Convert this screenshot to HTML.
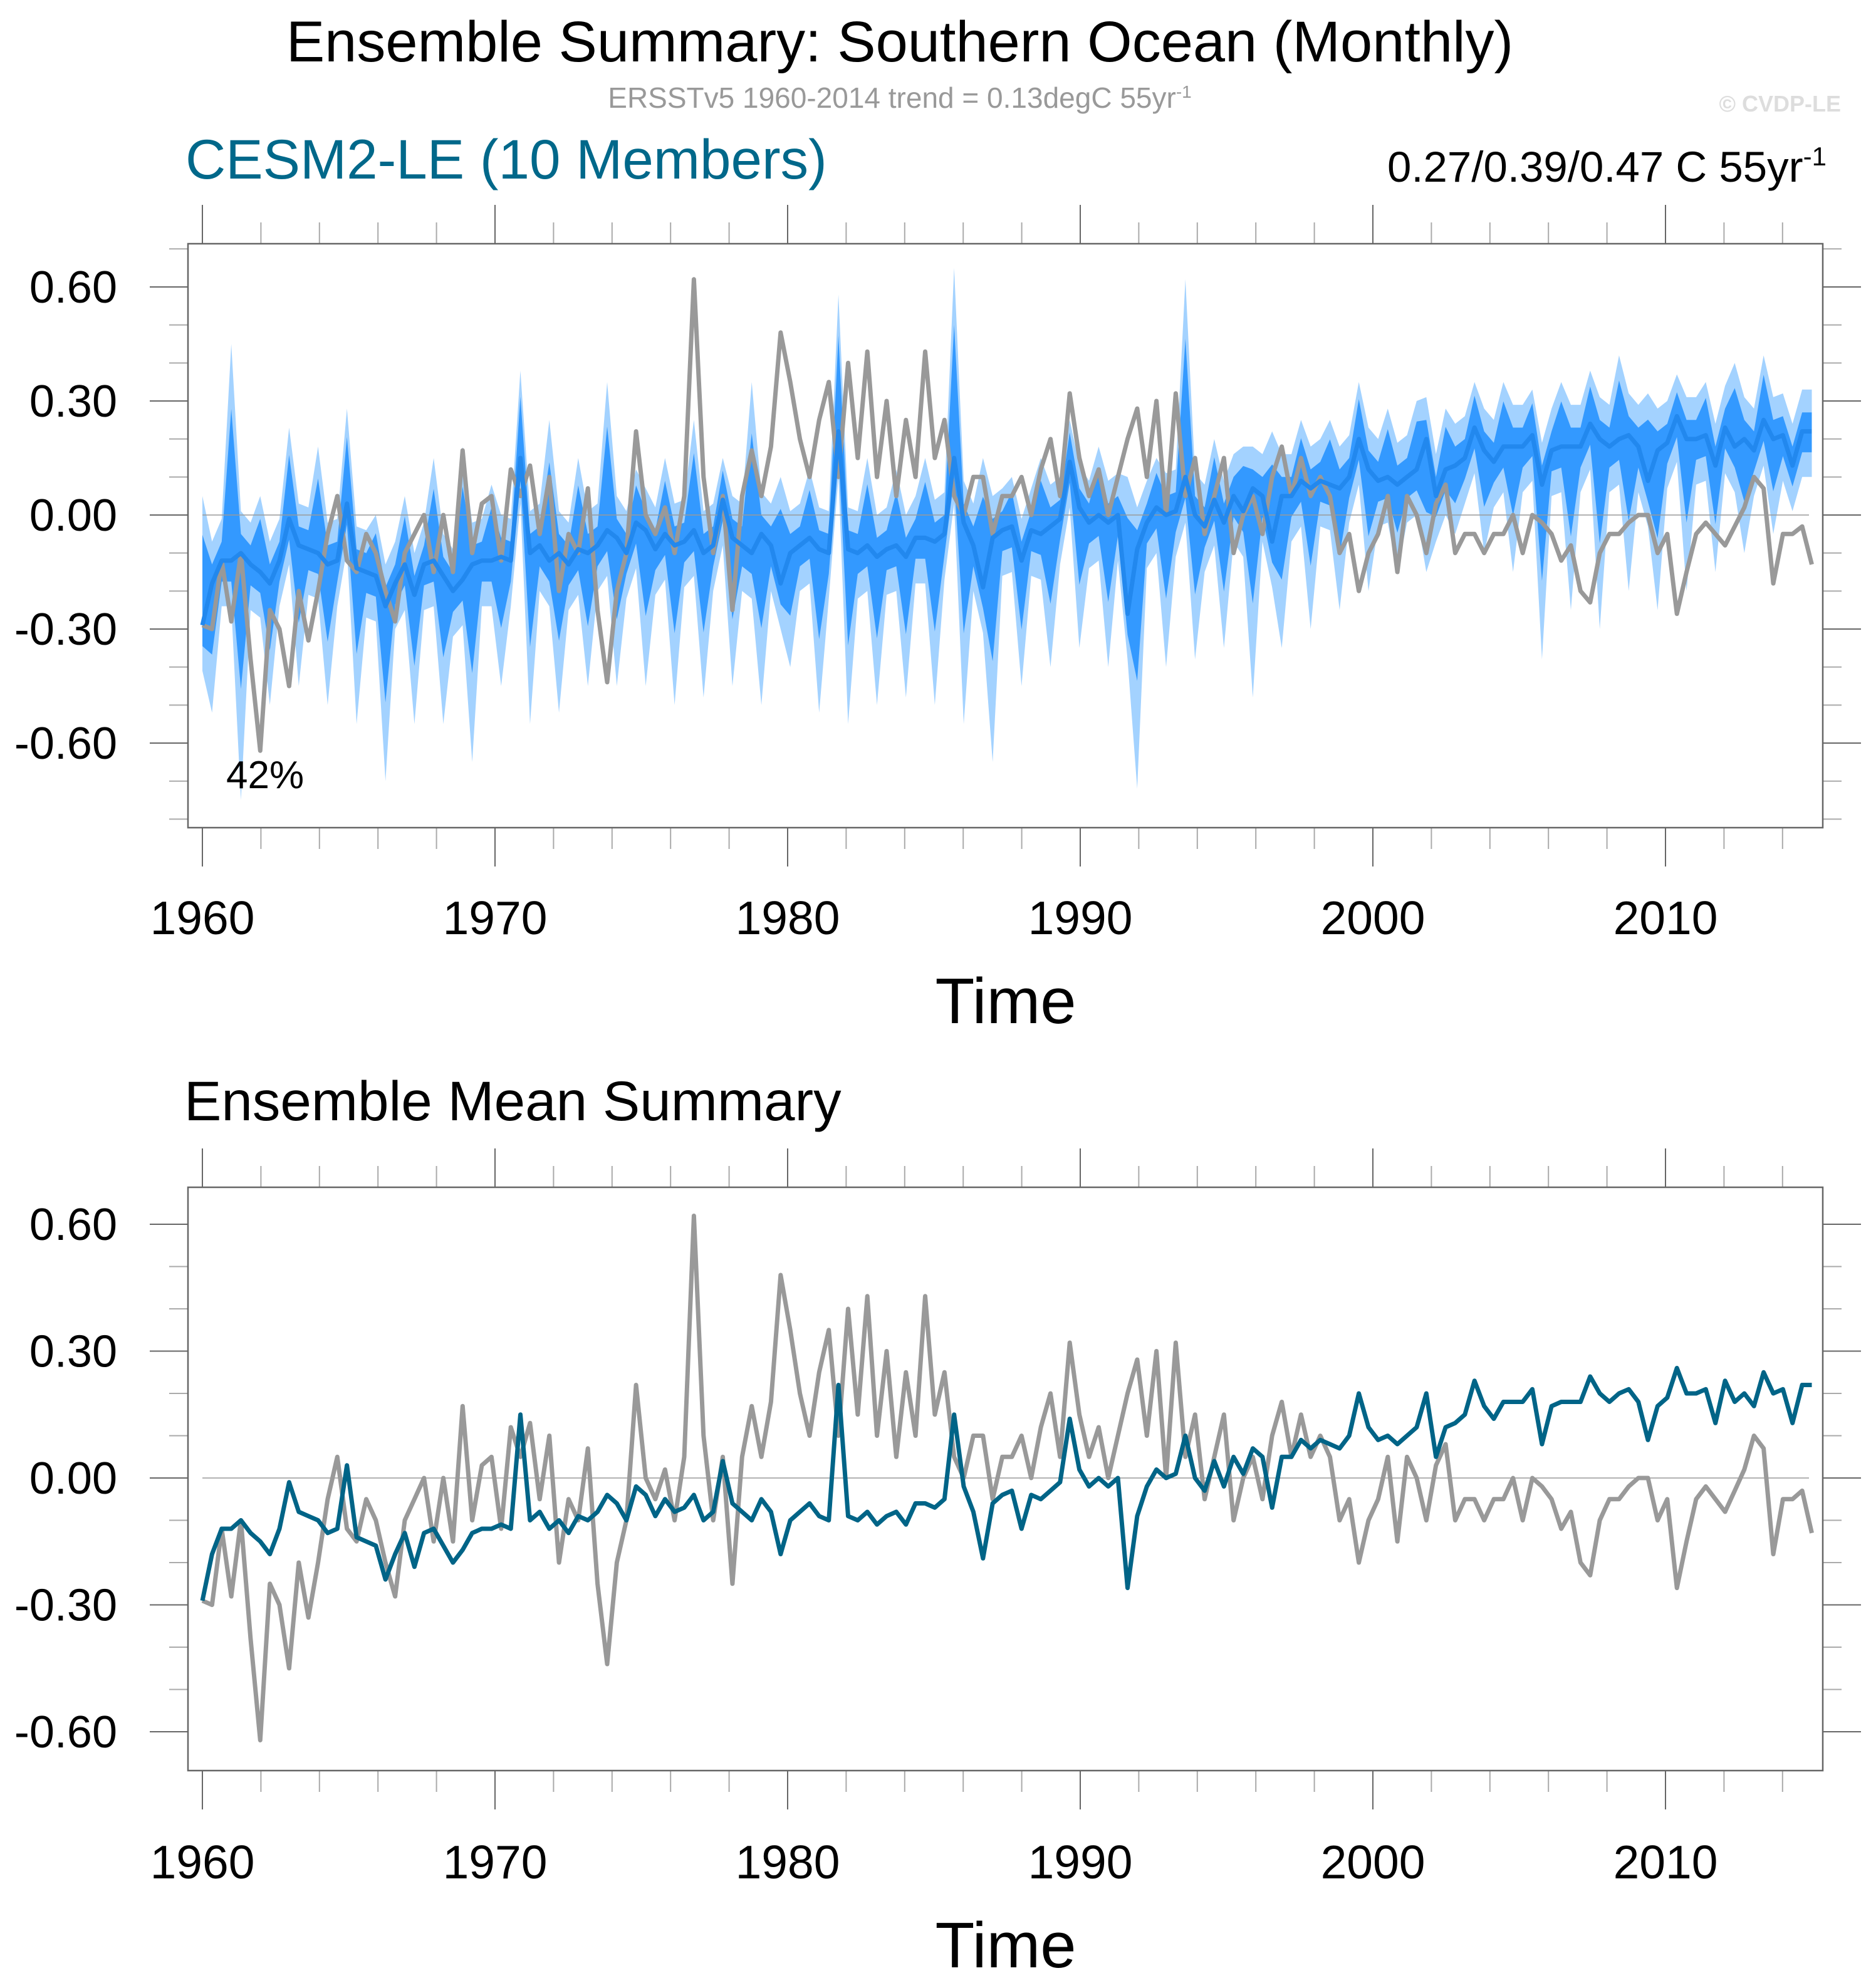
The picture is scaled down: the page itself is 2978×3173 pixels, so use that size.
<!DOCTYPE html>
<html><head><meta charset="utf-8"><style>
html,body{margin:0;padding:0;background:#fff;}
svg{display:block;font-family:"Liberation Sans",sans-serif;}
</style></head><body>
<svg id="fig" width="2978" height="3173" viewBox="0 0 2978 3173" xmlns="http://www.w3.org/2000/svg">
<text x="1436" y="98" font-size="92" text-anchor="middle">Ensemble Summary: Southern Ocean (Monthly)</text>
<text x="1436" y="172" font-size="46" fill="#999" text-anchor="middle">ERSSTv5 1960-2014 trend = 0.13degC 55yr<tspan dy="-16" font-size="28">-1</tspan></text>
<text x="2938" y="178" font-size="36" font-weight="bold" fill="#ddd" text-anchor="end">© CVDP-LE</text>
<text x="296" y="285" font-size="89" fill="#00688a">CESM2-LE (10 Members)</text>
<text x="2915" y="290" font-size="69" text-anchor="end">0.27/0.39/0.47 C 55yr<tspan dy="-26" font-size="42">-1</tspan></text>
<text x="294" y="1788" font-size="89">Ensemble Mean Summary</text>
<g id="top"></g>
<g id="bot"></g>
</svg>
<script>
const categoriesStartYear = 1960;
const categoriesEndYear = 2015;
const yTickValues = [-0.6, -0.3, 0, 0.3, 0.6];
const yTickLabels = ["-0.60", "-0.30", "0.00", "0.30", "0.60"];
const xTickYears = [1960, 1970, 1980, 1990, 2000, 2010];
const xTickLabels = ["1960", "1970", "1980", "1990", "2000", "2010"];
// ensemble mean, 3 samples per year (1960..2015)
const ensMean = [
-0.29,-0.18,-0.12, -0.12,-0.10,-0.13, -0.15,-0.18,-0.12, -0.01,-0.08,-0.09, -0.10,-0.13,-0.12,
0.03,-0.14,-0.15, -0.16,-0.24,-0.18, -0.13,-0.21,-0.13, -0.12,-0.16,-0.20, -0.17,-0.13,-0.12,
-0.12,-0.11,-0.12, 0.15,-0.10,-0.08, -0.12,-0.10,-0.13, -0.09,-0.10,-0.08, -0.04,-0.06,-0.10,
-0.02,-0.04,-0.09, -0.05,-0.08,-0.07, -0.04,-0.10,-0.08, 0.04,-0.06,-0.08, -0.10,-0.05,-0.08,
-0.18,-0.10,-0.08, -0.06,-0.09,-0.10, 0.22,-0.09,-0.10, -0.08,-0.11,-0.09, -0.08,-0.11,-0.06,
-0.06,-0.07,-0.05, 0.15,-0.02,-0.08, -0.19,-0.06,-0.04, -0.03,-0.12,-0.04, -0.05,-0.03,-0.01,
0.14,0.02,-0.02, 0.00,-0.02,0.00, -0.26,-0.09,-0.02, 0.02,0.00,0.01, 0.10,0.00,-0.03,
0.04,-0.02,0.05, 0.01,0.07,0.05, -0.07,0.05,0.05, 0.09,0.07,0.09, 0.08,0.07,0.10,
0.20,0.12,0.09, 0.10,0.08,0.10, 0.12,0.20,0.05, 0.12,0.13,0.15, 0.23,0.17,0.14,
0.18,0.18,0.18, 0.21,0.08,0.17, 0.18,0.18,0.18, 0.24,0.20,0.18, 0.20,0.21,0.18,
0.09,0.17,0.19, 0.26,0.20,0.20, 0.21,0.13,0.23, 0.18,0.20,0.17, 0.25,0.20,0.21,
0.13,0.22,0.22];
// observations (ERSSTv5), 3 samples per year
const obsValues = [
-0.29,-0.30,-0.12, -0.28,-0.10,-0.38, -0.62,-0.25,-0.30, -0.45,-0.20,-0.33, -0.20,-0.05,0.05,
-0.12,-0.15,-0.05, -0.10,-0.20,-0.28, -0.10,-0.05,0.00, -0.15,0.00,-0.15, 0.17,-0.10,0.03,
0.05,-0.12,0.12, 0.05,0.13,-0.05, 0.10,-0.20,-0.05, -0.10,0.07,-0.25, -0.44,-0.20,-0.10,
0.22,0.00,-0.05, 0.02,-0.10,0.05, 0.62,0.10,-0.10, 0.05,-0.25,0.05, 0.17,0.05,0.18,
0.48,0.35,0.20, 0.10,0.25,0.35, 0.10,0.40,0.15, 0.43,0.10,0.30, 0.05,0.25,0.10,
0.43,0.15,0.25, 0.05,0.00,0.10, 0.10,-0.05,0.05, 0.05,0.10,0.00, 0.12,0.20,0.05,
0.32,0.15,0.05, 0.12,0.00,0.10, 0.20,0.28,0.10, 0.30,0.00,0.32, 0.05,0.15,-0.05,
0.05,0.15,-0.10, 0.00,0.05,-0.05, 0.10,0.18,0.05, 0.15,0.05,0.10, 0.05,-0.10,-0.05,
-0.20,-0.10,-0.05, 0.05,-0.15,0.05, 0.00,-0.10,0.03, 0.08,-0.10,-0.05, -0.05,-0.10,-0.05,
-0.05,0.00,-0.10, 0.00,-0.02,-0.05, -0.12,-0.08,-0.20, -0.23,-0.10,-0.05, -0.05,-0.02,0.00,
0.00,-0.10,-0.05, -0.26,-0.15,-0.05, -0.02,-0.05,-0.08, -0.03,0.02,0.10, 0.07,-0.18,-0.05,
-0.05,-0.03,-0.13];
// yearly extreme of ensemble spread (outer band), 1960..2014
const spreadMax = [0.05,0.45,0.05,0.23,0.18,0.28,0.00,0.05,0.15,0.18,0.08,0.38,0.25,0.15,0.35,0.12,0.15,0.25,0.15,0.35,
0.10,0.12,0.58,0.15,0.12,0.15,0.65,0.15,0.10,0.15,0.25,0.18,0.10,0.15,0.62,0.20,0.18,0.22,0.25,0.25,
0.35,0.28,0.30,0.28,0.35,0.35,0.33,0.35,0.38,0.42,0.32,0.35,0.35,0.40,0.42];
const spreadMin = [-0.52,-0.75,-0.50,-0.45,-0.50,-0.55,-0.70,-0.55,-0.55,-0.65,-0.45,-0.55,-0.52,-0.45,-0.45,-0.45,-0.50,-0.48,-0.45,-0.50,
-0.40,-0.52,-0.55,-0.50,-0.48,-0.50,-0.55,-0.65,-0.45,-0.40,-0.35,-0.40,-0.72,-0.40,-0.38,-0.35,-0.48,-0.35,-0.30,-0.25,
-0.20,-0.15,-0.15,-0.05,-0.10,-0.15,-0.38,-0.25,-0.30,-0.20,-0.25,-0.20,-0.15,-0.10,-0.05];

const NS = "http://www.w3.org/2000/svg";
function mk(parent, tag, attrs) {
  const e = document.createElementNS(NS, tag);
  for (const k in attrs) e.setAttribute(k, attrs[k]);
  parent.appendChild(e);
  return e;
}
const X0 = 300, X1 = 2909;
function xScale(t) { return 323 + (t - 1960) * 46.7; }
function timeOf(i, n) { return categoriesStartYear + i * (categoriesEndYear - categoriesStartYear) / (n - 1); }

function drawAxes(g, top, bot, y, minorLo, minorHi, labY, timeY) {
  for (let v = minorLo; v <= minorHi + 1e-9; v += 0.1) {
    const yy = y(Math.round(v * 10) / 10);
    const major = Math.abs(Math.round(v * 10) % 3) === 0;
    const l1 = mk(g, "line", {x1: X0 - (major ? 61 : 30), x2: X0, y1: yy, y2: yy, stroke: major ? "#666" : "#aaa", "stroke-width": 2});
    
    
    const l2 = mk(g, "line", {x1: X1, x2: X1 + (major ? 61 : 30), y1: yy, y2: yy, stroke: major ? "#666" : "#aaa", "stroke-width": 2});
    
    
  }
  yTickValues.forEach((v, i) => {
    const t = mk(g, "text", {x: 187, y: y(v) + 25, "font-size": 72, "text-anchor": "end"});
    t.textContent = yTickLabels[i];
    
    
  });
  for (let yr = 1960; yr <= 2014; yr += 2) {
    const major = (yr % 10) === 0;
    const xx = xScale(yr);
    const len = major ? 62 : 34;
    const a = mk(g, "line", {x1: xx, x2: xx, y1: top - len, y2: top, stroke: major ? "#666" : "#aaa", "stroke-width": 2});
    
    
    const b = mk(g, "line", {x1: xx, x2: xx, y1: bot, y2: bot + len, stroke: major ? "#666" : "#aaa", "stroke-width": 2});
    
    
  }
  xTickYears.forEach((yr, i) => {
    const t = mk(g, "text", {x: xScale(yr), y: labY, "font-size": 75, "text-anchor": "middle"});
    t.textContent = xTickLabels[i];
    
    
  });
  const tt = mk(g, "text", {x: 1605, y: timeY, "font-size": 103, "text-anchor": "middle"});
  tt.textContent = "Time";
  
  
  const z = mk(g, "line", {x1: 323, x2: 2887, y1: y(0), y2: y(0), stroke: "#999", "stroke-width": 1.5});
  
  
}
function frame(g, top, bot) {
  const r = mk(g, "rect", {x: X0, y: top, width: X1 - X0, height: bot - top, fill: "none", stroke: "#666", "stroke-width": 2.5});
  
  
}
function linePath(vals, y) {
  const n = vals.length;
  return vals.map((v, i) => (i ? "L" : "M") + xScale(timeOf(i, n)).toFixed(1) + "," + y(v).toFixed(1)).join(" ");
}
function bandPath(upper, lower, y) {
  const n = upper.length;
  let d = upper.map((v, i) => (i ? "L" : "M") + xScale(timeOf(i, n)).toFixed(1) + "," + y(v).toFixed(1)).join(" ");
  for (let i = n - 1; i >= 0; i--) d += " L" + xScale(timeOf(i, n)).toFixed(1) + "," + y(lower[i]).toFixed(1);
  return d + " Z";
}

// top panel
const gT = document.getElementById("top");
const TT = 389, TB = 1321;
const yT = v => 822 - v * 606.7;
const n = ensMean.length;
const outHi = [], outLo = [], inHi = [], inLo = [];
for (let i = 0; i < n; i++) {
  const m = ensMean[i];
  let oh = m + 0.11, ol = m - 0.12, ih = m + 0.05, il = m - 0.055;
  const yr = Math.min(Math.floor(i / 3), spreadMax.length - 1);
  if (i % 3 === 0 && i < spreadMax.length * 3) { oh = Math.max(oh, spreadMax[yr]); ih = m + (spreadMax[yr] - m) * 0.7; }
  if (i % 3 === 1 && i < spreadMin.length * 3) { ol = Math.min(ol, spreadMin[yr]); il = m + (spreadMin[yr] - m) * 0.55; }
  outHi.push(oh); outLo.push(ol); inHi.push(ih); inLo.push(il);
}
const ob = mk(gT, "path", {d: bandPath(outHi, outLo, yT), fill: "#a3d2ff"});


const ib = mk(gT, "path", {d: bandPath(inHi, inLo, yT), fill: "#3399ff"});


drawAxes(gT, TT, TB, yT, -0.8, 0.7, 1491, 1633);
const oT = mk(gT, "path", {d: linePath(obsValues, yT), fill: "none", stroke: "#999", "stroke-width": 7, "stroke-linejoin": "round"});


const mT = mk(gT, "path", {d: linePath(ensMean, yT), fill: "none", stroke: "#2288ee", "stroke-width": 7, "stroke-linejoin": "round"});


frame(gT, TT, TB);
const pct = mk(gT, "text", {x: 361, y: 1258, "font-size": 62});
pct.textContent = "42%";



// bottom panel
const gB = document.getElementById("bot");
const BT = 1895, BB = 2826;
const yB = v => 2359 - v * 675;
drawAxes(gB, BT, BB, yB, -0.6, 0.6, 2998, 3140);
const oB = mk(gB, "path", {d: linePath(obsValues, yB), fill: "none", stroke: "#999", "stroke-width": 7, "stroke-linejoin": "round"});


const mB = mk(gB, "path", {d: linePath(ensMean, yB), fill: "none", stroke: "#006487", "stroke-width": 7, "stroke-linejoin": "round"});


frame(gB, BT, BB);
</script>
</body></html>
